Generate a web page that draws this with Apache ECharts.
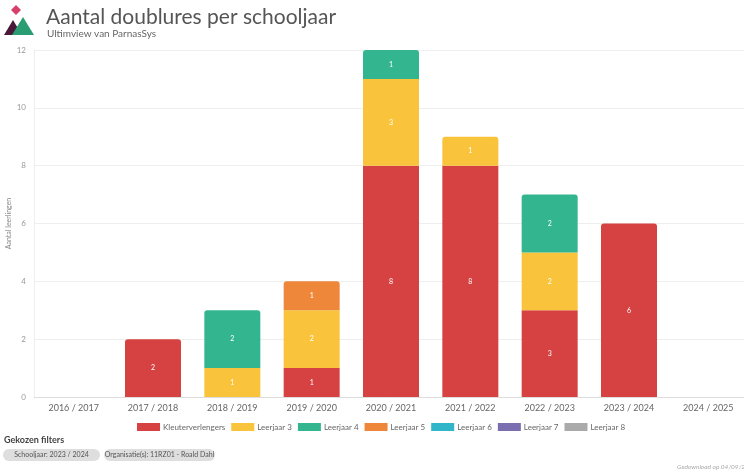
<!DOCTYPE html>
<html>
<head>
<meta charset="utf-8">
<script src="https://cdn.jsdelivr.net/npm/echarts@6/dist/echarts.min.js"></script>
<style>
html,body{margin:0;padding:0;background:#fff;}
#chart{width:744px;height:472px;}
</style>
</head>
<body>
<div id="chart"></div>
<script>
const categories = ['2016 / 2017','2017 / 2018','2018 / 2019','2019 / 2020','2020 / 2021','2021 / 2022','2022 / 2023','2023 / 2024','2024 / 2025'];
const kleuterverlengers = [null, 2, null, 1, 8, 8, 3, 6, null];
const leerjaar3 = [null, null, 1, 2, 3, 1, 2, null, null];
const leerjaar4 = [null, null, 2, null, 1, null, 2, null, null];
const leerjaar5 = [null, null, null, 1, null, null, null, null, null];
const leerjaar6 = [null, null, null, null, null, null, null, null, null];
const leerjaar7 = [null, null, null, null, null, null, null, null, null];
const leerjaar8 = [null, null, null, null, null, null, null, null, null];
const seriesNames = ['Kleuterverlengers','Leerjaar 3','Leerjaar 4','Leerjaar 5','Leerjaar 6','Leerjaar 7','Leerjaar 8'];
const seriesData = [kleuterverlengers, leerjaar3, leerjaar4, leerjaar5, leerjaar6, leerjaar7, leerjaar8];
const colors = ['#d64141','#f9c43c','#33b68f','#ef873a','#31b5c8','#7b6db0','#aaaaaa'];
const yTicks = [0, 2, 4, 6, 8, 10, 12];

const FONT = 'Lato, "Open Sans", sans-serif';
const chart = echarts.init(document.getElementById('chart'));

function topIndex(ci){
  let t = -1;
  seriesData.forEach((d, si) => { if (d[ci] != null && d[ci] > 0) t = si; });
  return t;
}

const series = seriesData.map((d, si) => ({
  name: seriesNames[si],
  type: 'bar',
  stack: 'total',
  barWidth: 56,
  data: d.map((v, ci) => v == null ? null : {
    value: v,
    itemStyle: { borderRadius: topIndex(ci) === si ? [3,3,0,0] : 0 }
  }),
  itemStyle: { color: colors[si] },
  label: {
    show: true, position: 'inside', color: '#fff', fontSize: 7, fontFamily: FONT,
    formatter: p => p.value
  }
}));

chart.setOption({
  animation: false,
  color: colors,
  textStyle: { fontFamily: FONT },
  title: [{
    text: 'Aantal doublures per schooljaar',
    left: 41, top: 2,
    textStyle: { fontSize: 21, fontWeight: 'normal', color: '#555', fontFamily: FONT }
  }, {
    text: 'Ultimview van ParnasSys',
    left: 42, top: 24,
    textStyle: { fontSize: 10, fontWeight: 'normal', color: '#666', fontFamily: FONT }
  }],
  grid: { left: 34, right: -4, top: 50, bottom: 75, outerBoundsMode: 'none', containLabel: false },
  legend: {
    data: seriesNames,
    left: 132, top: 418,
    itemWidth: 23, itemHeight: 8, itemGap: 6,
    icon: 'rect',
    textStyle: { fontSize: 8, color: '#666', fontFamily: FONT, padding: [0,0,0,-2] }
  },
  xAxis: {
    type: 'category',
    data: categories,
    axisTick: { show: false },
    axisLine: { lineStyle: { color: '#ddd' } },
    axisLabel: { fontSize: 9, color: '#666', margin: 7, fontFamily: FONT }
  },
  yAxis: {
    type: 'value',
    min: yTicks[0], max: yTicks[yTicks.length - 1], interval: 2,
    name: 'Aantal leerlingen',
    nameLocation: 'middle',
    nameGap: 22,
    nameMoveOverlap: false,
    nameTextStyle: { fontSize: 7, color: '#888', fontFamily: FONT },
    axisLine: { show: true, lineStyle: { color: '#eee' } },
    axisLabel: { fontSize: 8, color: '#999', margin: 8, fontFamily: FONT },
    splitLine: { lineStyle: { color: '#eee' } }
  },
  series: series,
  graphic: [
    { type: 'polygon', shape: { points: [[16,5],[21,10],[16,15],[11,10]] }, style: { fill: '#d7406a' } },
    { type: 'polygon', shape: { points: [[4,35],[13,20],[22,35]] }, style: { fill: '#4a1838' } },
    { type: 'polygon', shape: { points: [[12,35],[23,17],[34,35]] }, style: { fill: '#2a9e72' } },
    { type: 'text', left: 4, top: 436, style: { text: 'Gekozen filters', fontSize: 9, fontWeight: 'bold', fill: '#444', fontFamily: FONT } },
    { type: 'rect', shape: { x: 3, y: 449, width: 97, height: 12, r: 6 }, style: { fill: '#dedede' } },
    { type: 'text', x: 51.5, y: 455, style: { text: 'Schooljaar: 2023 / 2024', fontSize: 7, fill: '#555', align: 'center', verticalAlign: 'middle', fontFamily: FONT } },
    { type: 'rect', shape: { x: 104, y: 449, width: 111, height: 12, r: 6 }, style: { fill: '#dedede' } },
    { type: 'text', x: 159.5, y: 455, style: { text: 'Organisatie(s): 11RZ01 - Roald Dahl', fontSize: 7, fill: '#555', align: 'center', verticalAlign: 'middle', fontFamily: FONT } },
    { type: 'text', x: 677, y: 467, style: { text: 'Gedownload op 04/09/2024', fontSize: 6.5, fontStyle: 'italic', fill: '#aaa', verticalAlign: 'middle', fontFamily: FONT } }
  ]
});
</script>
</body>
</html>
